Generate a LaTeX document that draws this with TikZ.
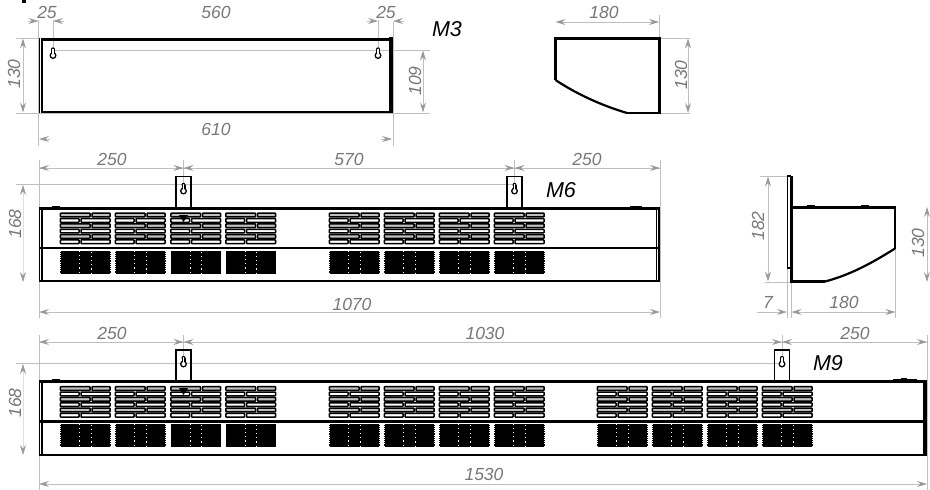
\documentclass[tikz,border=0pt]{standalone}
\usepackage{fontspec}
\setmainfont{Liberation Sans}
\usetikzlibrary{arrows.meta}
\definecolor{dimc}{gray}{0.6}
\definecolor{extc}{gray}{0.75}
\definecolor{txtc}{gray}{0.47}
\tikzset{
  x=1pt,y=-1pt,
  part/.style={draw=black,line width=2.7pt,line join=miter},
  thin part/.style={draw=black,line width=1.9pt},
  ext/.style={draw=extc,line width=1pt},
  dimline/.style={draw=extc,line width=1pt},
  tip/.style={-{Stealth[length=10pt,width=6pt,inset=3.5pt,color=dimc]}},
  bothtip/.style={{Stealth[length=10pt,width=6pt,inset=3.5pt,color=dimc]}-{Stealth[length=10pt,width=6pt,inset=3.5pt,color=dimc]}},
  dimtext/.style={text=txtc,font=\fontsize{17.5}{17.5}\itshape\selectfont,inner sep=0pt},
  vdimtext/.style={dimtext,rotate=90},
  model/.style={text=black,font=\fontsize{21.5}{21.5}\itshape\selectfont,inner sep=0pt},
}
\newcommand{\keyh}[2]{%
  \fill[black] (#1,#2+2) circle[radius=3.5];
  \fill[black] (#1,#2-4.2) circle[radius=2];
  \fill[black] (#1-2,#2-4.2) rectangle (#1+2,#2+1);
  \fill[white] (#1,#2+2) circle[radius=2];
  \fill[white] (#1,#2-4.2) circle[radius=0.8];
  \fill[white] (#1-0.8,#2-4.2) rectangle (#1+0.8,#2+1);
}
\newcommand{\grille}[3]{% x, top of upper part, top of black part
  \foreach \r in {0,2,4}{
    \draw[black,line width=1.5pt,fill=black!25,rounded corners=0.6pt] (#1+0.4,#2+\r*5.35+0.7) rectangle (#1+30,#2+\r*5.35+4.4);
    \draw[black,line width=1.5pt,fill=black!25,rounded corners=0.6pt] (#1+32,#2+\r*5.35+0.7) rectangle (#1+50,#2+\r*5.35+4.4);
    \draw[black,line width=1.5pt,fill=white,rounded corners=0.6pt] (#1+0.4,#2+\r*5.35+6.05) rectangle (#1+19,#2+\r*5.35+9.75);
    \draw[black,line width=1.5pt,fill=white,rounded corners=0.6pt] (#1+21,#2+\r*5.35+6.05) rectangle (#1+50,#2+\r*5.35+9.75);
  }
  \fill[black] (#1,#3) rectangle (#1+50.5,#3+23);
  \draw[white,line width=1pt,dash pattern=on 1.2pt off 3pt] (#1+19.5,#3) -- (#1+19.5,#3+23);
  \draw[white,line width=1pt,dash pattern=on 1.2pt off 3pt] (#1+31,#3+1) -- (#1+31,#3+23);
  \draw[white,line width=0.7pt,dash pattern=on 0.9pt off 1.3pt] (#1,#3) -- (#1,#3+23);
  \draw[white,line width=0.7pt,dash pattern=on 0.9pt off 1.3pt] (#1+50.5,#3) -- (#1+50.5,#3+23);
}
\begin{document}
\begin{tikzpicture}
\useasboundingbox (0,0) rectangle (930,490);
\fill[white] (0,0) rectangle (930,490);
\fill[black] (22,0) rectangle (26,3);
% ---------- M3 front ----------
\draw[ext] (16,38) -- (39,38);
\draw[ext] (16,113) -- (430,113);
\draw[ext] (53,50) -- (430,50);
\draw[ext] (38.5,20) -- (38.5,146);
\draw[ext] (53,20) -- (53,50);
\draw[ext] (378,20) -- (378,50);
\draw[ext] (393,22) -- (393,146);
\draw[part] (40.5,39.5) -- (391,39.5);
\draw[part] (40.5,112) -- (391,112);
\draw[black,line width=1.3pt] (39.3,38) -- (39.3,113);
\draw[black,line width=1.3pt] (41.9,38) -- (41.9,113);
\draw[black,line width=4pt] (390.5,37) -- (390.5,113);
\keyh{53}{53.5}
\keyh{378}{53.5}
\draw[tip,dimline] (28,21) -- (38.5,21);
\draw[tip,dimline] (64,21) -- (53,21);
\draw[tip,dimline] (367,21) -- (378,21);
\draw[tip,dimline] (404,21) -- (393,21);
\draw[bothtip,dimline] (23,38.5) -- (23,112.5);
\draw[bothtip,dimline] (423,50.5) -- (423,112.5);
\draw[tip,dimline] (50,139) -- (39,139);
\draw[tip,dimline] (381,139) -- (392,139);
\node[dimtext] (d25a) at (47,12) {25};
\node[dimtext] (d560) at (216,12) {560};
\node[dimtext] (d25b) at (386,12) {25};
\node[vdimtext] (d130a) at (14,74) {130};
\node[vdimtext] (d109) at (415,81) {109};
\node[dimtext] (d610) at (216,129) {610};
\node[model] (m3) at (447,29) {M3};
% ---------- M3 side ----------
\draw[ext] (659,15) -- (659,38);
\draw[ext] (659,38.5) -- (690,38.5);
\draw[ext] (659,113) -- (690,113);
\draw[bothtip,dimline] (555.5,22) -- (659,22);
\draw[bothtip,dimline] (688,38.5) -- (688,113);
\draw[part] (555.5,80) -- (555.5,38.5) -- (659.5,38.5) -- (659.5,113) -- (627,113);
\draw[black,line width=2.2pt] (555.5,80) .. controls (575,93) and (600,105) .. (627,113);
\node[dimtext] (d180a) at (604,12) {180};
\node[vdimtext] (d130b) at (681,75) {130};
% ---------- M6 front ----------
\draw[ext] (16,184) -- (514,184);
\draw[ext] (39,160) -- (39,318);
\draw[ext] (660,160) -- (660,318);
\draw[ext] (183.5,160) -- (183.5,190);
\draw[ext] (514.5,160) -- (514.5,190);
\draw[dimline] (39,168) -- (660,168);
\draw[tip,dimline] (50,168) -- (39,168);
\draw[tip,dimline] (173,168) -- (183.5,168);
\draw[tip,dimline] (194,168) -- (183.5,168);
\draw[tip,dimline] (504,168) -- (514.5,168);
\draw[tip,dimline] (525,168) -- (514.5,168);
\draw[tip,dimline] (649,168) -- (660,168);
\draw[bothtip,draw=extc!50,line width=0.5pt] (23,185) -- (23,282);
\draw[bothtip,dimline] (39,312) -- (660,312);
\draw[thin part] (176,208) -- (176,176.5) -- (191,176.5) -- (191,208);
\draw[thin part] (507,208) -- (507,176.5) -- (522,176.5) -- (522,208);
\keyh{183.5}{189}
\keyh{514.5}{189}
\foreach \gx in {60,115,170.5,225.5,329,384,439,494}{\grille{\gx}{212.5}{250.5}}
\fill[black] (179,215) -- (188,215) -- (183.5,222) -- cycle;
\draw[part] (40,208.5) -- (658,208.5);
\draw[part] (40,248) -- (658,248);
\draw[black,line width=2.2pt] (40,281) -- (658,281);
\draw[black,line width=1.3pt] (39.5,207) -- (39.5,282);
\draw[black,line width=1.3pt] (42,207) -- (42,282);
\draw[black,line width=1.3pt] (656.5,207) -- (656.5,282);
\draw[black,line width=1.3pt] (659,207) -- (659,282);
\draw[black,line width=1.8pt] (52,207) -- (60,207);
\draw[black,line width=1.8pt] (630,206.5) -- (642,206.5);
\node[dimtext] (d250a) at (112,159) {250};
\node[dimtext] (d570) at (349,159) {570};
\node[dimtext] (d250b) at (587,159) {250};
\node[vdimtext] (d168a) at (15,224) {168};
\node[dimtext] (d1070) at (352,304) {1070};
\node[model] (m6) at (561,190) {M6};
% ---------- M6 side ----------
\draw[ext] (760,176) -- (787,176);
\draw[ext] (765,282) -- (791,282);
\draw[ext] (787,268) -- (787,318);
\draw[ext] (791.5,282) -- (791.5,318);
\draw[ext] (895.5,249) -- (895.5,318);
\draw[bothtip,dimline] (768,176.5) -- (768,281.5);
\draw[bothtip,dimline] (927,207) -- (927,282);
\draw[tip,dimline] (757,312) -- (787,312);
\draw[bothtip,dimline] (791.5,312) -- (895.5,312);
\draw[black,line width=1.2pt] (787.2,176) rectangle (790.5,268);
\draw[part] (791.5,176) -- (791.5,207.5);
\draw[part] (791.5,207.5) -- (895,207.5) -- (895,249);
\draw[part] (791.5,207.5) -- (791.5,281.5) -- (825,281.5);
\draw[black,line width=2.2pt] (895,248.5) .. controls (872,263) and (850,275) .. (825,281.5);
\fill[black] (807,204.5) rectangle (815,208);
\fill[black] (861,204.5) rectangle (869,208);
\node[vdimtext] (d182) at (758,226) {182};
\node[vdimtext] (d130c) at (918,243) {130};
\node[dimtext] (d7) at (768,302) {7};
\node[dimtext] (d180b) at (844,302) {180};
% ---------- M9 front ----------
\draw[ext] (16,363) -- (782,363);
\draw[ext] (39,335) -- (39,490);
\draw[ext] (927,335) -- (927,490);
\draw[ext] (183.5,335) -- (183.5,362);
\draw[ext] (782,335) -- (782,362);
\draw[dimline] (39,342) -- (927,342);
\draw[tip,dimline] (50,342) -- (39,342);
\draw[tip,dimline] (173,342) -- (183.5,342);
\draw[tip,dimline] (194,342) -- (183.5,342);
\draw[tip,dimline] (771.5,342) -- (782,342);
\draw[tip,dimline] (792.5,342) -- (782,342);
\draw[tip,dimline] (916,342) -- (927,342);
\draw[bothtip,draw=extc!50,line width=0.5pt] (23,364) -- (23,455);
\draw[bothtip,dimline] (39,484) -- (927,484);
\draw[thin part] (176,381) -- (176,350) -- (191,350) -- (191,381);
\draw[thin part] (774.5,381) -- (774.5,350) -- (789.5,350) -- (789.5,381);
\keyh{183.5}{362}
\keyh{782}{362}
\foreach \gx in {60,115,170.5,225.5,329,384,439,494,597,652,707,762}{\grille{\gx}{386}{423.5}}
\fill[black] (179,388) -- (188,388) -- (183.5,395) -- cycle;
\draw[part] (40,381.5) -- (924,381.5);
\draw[part] (40,421.5) -- (924,421.5);
\draw[black,line width=2.2pt] (40,455) -- (924,455);
\draw[black,line width=1.3pt] (39.5,380) -- (39.5,456);
\draw[black,line width=1.3pt] (42,380) -- (42,456);
\draw[black,line width=3.5pt] (925,380) -- (925,456);
\draw[black,line width=1.8pt] (52,380) -- (60,380);
\draw[black,line width=1.8pt] (893,380.3) -- (917,380.3);
\fill[black] (901,378) rectangle (907,381);
\node[dimtext] (d250c) at (112,333) {250};
\node[dimtext] (d1030) at (485,333) {1030};
\node[dimtext] (d250d) at (855,333) {250};
\node[vdimtext] (d168b) at (15,403) {168};
\node[dimtext] (d1530) at (484,474) {1530};
\node[model] (m9) at (828,363) {M9};
\end{tikzpicture}
\end{document}
